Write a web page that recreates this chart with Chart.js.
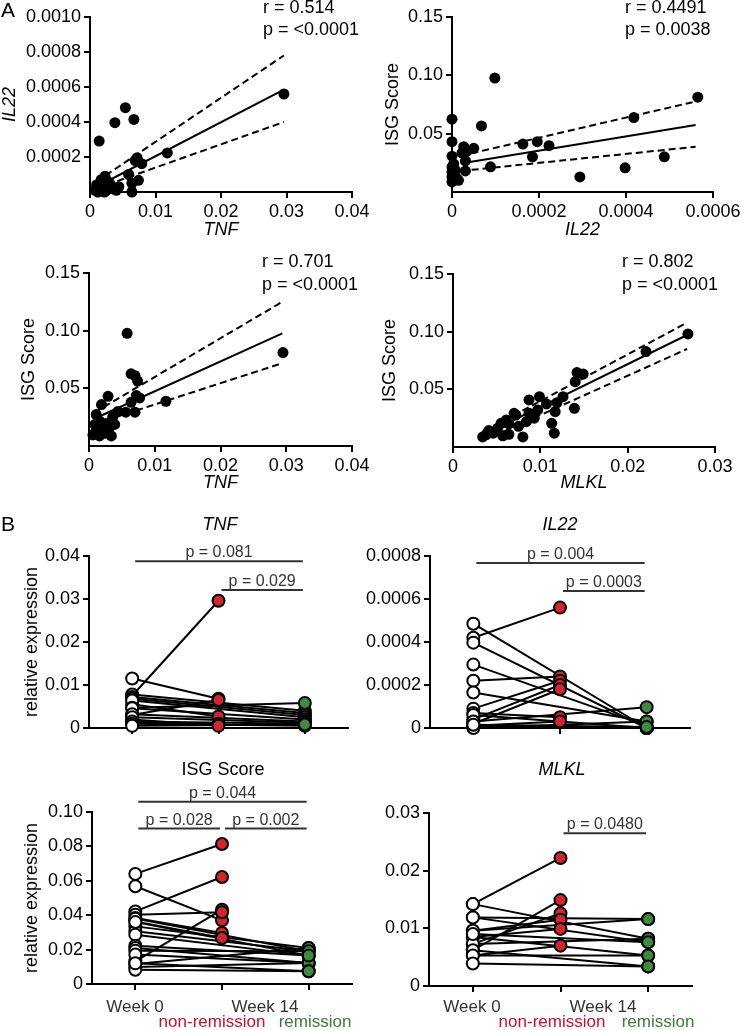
<!DOCTYPE html>
<html>
<head>
<meta charset="utf-8">
<script src="https://cdn.jsdelivr.net/npm/chart.js@4"></script>
<style>
  html, body { margin: 0; padding: 0; background: #fff; overflow: hidden; width: 742px; height: 1030px; position: relative; }
  canvas { position: absolute; }
</style>
</head>
<body>
<script>
const FAMILY = "'Liberation Sans', Arial, sans-serif";
Chart.defaults.font.family = FAMILY;
Chart.defaults.color = '#000';

const RED = '#d0262c';
const GREEN = '#3f8a3f';

// ---- A: correlations ----
const a1Tnf = [0.0296, 0.0118, 0.0054, 0.0038, 0.0067, 0.0014, 0.0072, 0.0069, 0.0079, 0.0074, 0.0064, 0.0064, 0.0059, 0.0023,
  0.0038, 0.0044, 0.0010, 0.0015, 0.0020, 0.0025, 0.0030, 0.0012, 0.0018, 0.0008, 0.0027, 0.0033, 0.0040, 0.0022, 0.0017];
const a1Il22 = [0.00056, 0.000223, 0.000482, 0.000396, 0.000415, 0.000291, 0.000196, 0.00018, 0.000162, 0.000067, 0.00005, 0.0, 0.0001, 0.00009,
  0.00002, 0.00003, 0.00004, 0.00005, 0.00003, 0.00001, 0.00005, 0.0, 0.00002, 0.00001, 0.00006, 0.00002, 0.00001, 0.0, 0.00007];
const a1LineX = [0.0010, 0.0296];
const a1Fit = [0.00003, 0.000585];
const a1Hi = [0.00006, 0.00078];
const a1Lo = [0.00002, 0.0004];

const a2Il22 = [0.000565, 0.000418, 0.000488, 0.000398, 0.000294, 0.0000985, 0.0000677, 0.000163, 0.000196, 0.000223, 0.000185, 0.0000885,
  0.0000308, 0.0000308, 0.0000269, 0.000023, 0.00005, 0.0000346, 0, 0, 0, 0, 0, 0, 0, 0.0000077, 0.0000115, 0.000015, 0.000005, 0.000004];
const a2Isg = [0.0813, 0.0638, 0.0302, 0.0207, 0.0129, 0.0977, 0.0566, 0.0411, 0.0431, 0.0397, 0.0302, 0.0216,
  0.0267, 0.0181, 0.0388, 0.0336, 0.0374, 0.035, 0.0624, 0.0431, 0.0307, 0.0216, 0.0172, 0.0129, 0.0086, 0.0187, 0.0115, 0.0100, 0.0150, 0.0240];
const a2LineX = [0.00002, 0.00056];
const a2Fit = [0.0245, 0.0575];
const a2Hi = [0.031, 0.0776];
const a2Lo = [0.018, 0.0388];

const a3Tnf = [0.0295, 0.0117, 0.0058, 0.0064, 0.0070, 0.0074, 0.0072, 0.0077, 0.0064, 0.0070, 0.0056, 0.0029, 0.0019, 0.0011,
  0.0016, 0.0026, 0.0039, 0.0009, 0.0011, 0.0021, 0.0031, 0.0006, 0.0016, 0.0034, 0.0024, 0.0014, 0.0044, 0.0036];
const a3Isg = [0.081, 0.0388, 0.0977, 0.0626, 0.0609, 0.0563, 0.0437, 0.0417, 0.0379, 0.0293, 0.0293, 0.0431, 0.0359, 0.0273,
  0.0216, 0.0195, 0.0187, 0.0187, 0.0144, 0.0130, 0.0160, 0.0096, 0.0087, 0.0087, 0.0110, 0.0120, 0.0300, 0.0250];
const a3LineX = [0.0008, 0.0294];
const a3Fit = [0.0236, 0.0977];
const a3Hi = [0.0290, 0.125];
const a3Lo = [0.0190, 0.0718];

const a4Mlkl = [0.0269, 0.0221, 0.0142, 0.0149, 0.0140, 0.0139, 0.0126, 0.0119, 0.0117, 0.0113, 0.0107, 0.0099, 0.0097, 0.0087, 0.0084, 0.0087,
  0.0072, 0.0070, 0.0061, 0.0064, 0.0055, 0.0051, 0.0041, 0.0034, 0.0057, 0.0080, 0.0116, 0.0064, 0.0046, 0.0038, 0.0075, 0.0093];
const a4Isg = [0.098, 0.0827, 0.0645, 0.0633, 0.0566, 0.0335, 0.0436, 0.0384, 0.0306, 0.0205, 0.0373, 0.0436, 0.0321, 0.0408, 0.022, 0.0292,
  0.0277, 0.0292, 0.0234, 0.020, 0.0205, 0.0162, 0.0142, 0.0087, 0.0097, 0.0087, 0.0120, 0.0110, 0.0120, 0.0110, 0.0180, 0.0250];
const a4LineX = [0.0035, 0.0268];
const a4Fit = [0.0105, 0.0971];
const a4Hi = [0.0135, 0.1078];
const a4Lo = [0.0055, 0.085];

// ---- B: week 0 vs week 14 ----
const groups = ['Week 0', 'non-remission', 'remission'];

const tnfW0toNR = [0.0075, 0.0115, 0.0030, 0.0055, 0.0012, 0.0020];
const tnfNR = [0.0296, 0.0068, 0.0065, 0.0027, 0.0010, 0.0005];
const tnfW0toR = [0.0078, 0.0072, 0.0068, 0.0064, 0.0047, 0.0046, 0.0032, 0.0025, 0.0015, 0.0010, 0.0005];
const tnfR = [0.0040, 0.0035, 0.0030, 0.0025, 0.0058, 0.0020, 0.0015, 0.0012, 0.0010, 0.0005, 0.0008];

const il22W0toNR = [0.00042, 0.00022, 0.00009, 0.00004, 0.00002, 0.00007, 0.00001];
const il22NR = [0.00056, 0.00024, 0.00022, 0.00020, 0.00018, 0.00005, 0.00003];
const il22W0toR = [0.000485, 0.000397, 0.000295, 0.000165, 0.00006, 0.00003, 0.00001, 0.0, 0.000015];
const il22R = [0.0, 0.0, 0.00001, 0.00003, 0.0, 0.000097, 0.0, 0.00003, 0.000005];

const isgW0toNR = [0.064, 0.0422, 0.0568, 0.0132, 0.0403, 0.0384, 0.0364];
const isgNR = [0.0814, 0.0622, 0.037, 0.0432, 0.0417, 0.0297, 0.0267];
const isgW0toR = [0.0335, 0.0306, 0.0287, 0.0223, 0.0209, 0.0194, 0.0171, 0.0116, 0.0099, 0.0083, 0.0380, 0.0360, 0.0120];
const isgR = [0.0209, 0.0190, 0.0165, 0.0165, 0.0122, 0.0190, 0.0122, 0.0209, 0.0122, 0.0074, 0.0190, 0.0165, 0.0074];

const mlklW0toNR = [0.0142, 0.0062, 0.0073, 0.0096, 0.0085, 0.0053];
const mlklNR = [0.0222, 0.0149, 0.0126, 0.0115, 0.0099, 0.0070];
const mlklW0toR = [0.0142, 0.0119, 0.0119, 0.0096, 0.0085, 0.0073, 0.0062, 0.0053, 0.0039, 0.0090];
const mlklR = [0.0082, 0.0116, 0.0076, 0.0116, 0.0053, 0.0082, 0.0034, 0.0053, 0.0034, 0.0076];

// tick values
const tnfAxisTicks = [0, 0.01, 0.02, 0.03, 0.04];
const il22XTicks = [0, 0.0002, 0.0004, 0.0006];
const il22YTicks = [0.0002, 0.0004, 0.0006, 0.0008, 0.0010];
const isgYTicks = [0.05, 0.10, 0.15];
const mlklXTicks = [0, 0.01, 0.02, 0.03];
const bTnfTicks = [0, 0.01, 0.02, 0.03, 0.04];
const bIl22Ticks = [0, 0.0002, 0.0004, 0.0006, 0.0008];
const bIsgTicks = [0, 0.02, 0.04, 0.06, 0.08, 0.10];
const bMlklTicks = [0, 0.01, 0.02, 0.03];

// comparison brackets (category index from/to, height in data units)
const tnfBrackets = [{ from: 0, to: 2, y: 0.0388, text: 'p = 0.081' }, { from: 1, to: 2, y: 0.0321, text: 'p = 0.029' }];
const il22Brackets = [{ from: 0, to: 2, y: 0.000767, text: 'p = 0.004' }, { from: 1, to: 2, y: 0.000637, text: 'p = 0.0003' }];
const isgBrackets = [{ from: 0, to: 2, y: 0.106, text: 'p = 0.044' }, { from: 0, to: 1, y: 0.0904, text: 'p = 0.028' }, { from: 1, to: 2, y: 0.0904, text: 'p = 0.002' }];
const mlklBrackets = [{ from: 1, to: 2, y: 0.0265, text: 'p = 0.0480' }];

function addCanvas(box) {
  const c = document.createElement('canvas');
  c.width = box.w;
  c.height = box.h;
  c.style.left = box.x + 'px';
  c.style.top = box.y + 'px';
  document.body.appendChild(c);
  return c;
}

const notesPlugin = {
  id: 'notes',
  afterDraw(chart, args, o) {
    const ctx = chart.ctx;
    const bx = o.box.x, by = o.box.y;
    ctx.save();
    (o.brackets || []).forEach(b => {
      const x1 = chart.scales.x.getPixelForValue(b.from) + 3;
      const x2 = chart.scales.x.getPixelForValue(b.to) - 2;
      const y = chart.scales.y.getPixelForValue(b.y);
      ctx.strokeStyle = '#333';
      ctx.lineWidth = 2;
      ctx.beginPath();
      ctx.moveTo(x1, y);
      ctx.lineTo(x2, y);
      ctx.stroke();
      ctx.font = '16px ' + FAMILY;
      ctx.fillStyle = '#333';
      ctx.textAlign = 'center';
      ctx.textBaseline = 'alphabetic';
      ctx.fillText(b.text, (x1 + x2) / 2, y - 4);
    });
    (o.texts || []).forEach(t => {
      ctx.font = (t.italic ? 'italic ' : '') + (t.size || 18) + 'px ' + FAMILY;
      ctx.fillStyle = t.color || '#000';
      ctx.textAlign = t.align || 'center';
      ctx.textBaseline = 'middle';
      ctx.fillText(t.text, t.x - bx, t.y - by);
    });
    ctx.restore();
  }
};

function linAxis(min, max, ticks, d, hideLabels) {
  return {
    type: 'linear', min, max,
    afterBuildTicks: s => { s.ticks = ticks.map(v => ({ value: v })); },
    ticks: {
      display: !hideLabels,
      callback: v => (v === 0 ? '0' : v.toFixed(d)),
      font: { size: 18 }, color: '#000', padding: 3, autoSkip: false, maxRotation: 0
    },
    grid: { drawOnChartArea: false, drawTicks: true, tickLength: 6, color: '#000', lineWidth: 2 },
    border: { display: true, color: '#000', width: 2 }
  };
}

function withTitle(axis, text, italic, pad, side) {
  axis.title = {
    display: true, text, color: '#000',
    font: { size: 18, style: italic ? 'italic' : 'normal' },
    padding: side === 'y' ? { top: pad, bottom: 0 } : { top: 0, bottom: pad }
  };
  return axis;
}

function makeChart(box, area, type, data, scales, notes) {
  scales.x.afterFit = s => { s.height = box.y + box.h - area.b; };
  scales.y.afterFit = s => { s.width = area.l - box.x; };
  return new Chart(addCanvas(box), {
    type, data,
    options: {
      responsive: false, animation: false, events: [],
      layout: { padding: { left: 0, top: area.t - box.y, right: box.x + box.w - area.r, bottom: 0 } },
      plugins: { legend: { display: false }, tooltip: { enabled: false }, notes: Object.assign({ box }, notes) },
      scales
    },
    plugins: [notesPlugin]
  });
}

const pts = (xs, ys) => xs.map((x, i) => ({ x, y: ys[i] }));

function scatterData(xs, ys, lineX, fit, hi, lo) {
  const band = (ys2, dash) => ({
    data: pts(lineX, ys2), showLine: true, borderColor: '#000', borderWidth: 2, borderDash: dash,
    pointRadius: 0, clip: false, order: 2
  });
  return {
    datasets: [
      { data: pts(xs, ys), showLine: false, pointRadius: 5.5, pointBackgroundColor: '#000', pointBorderWidth: 0, clip: false, order: 1 },
      band(fit, []), band(hi, [7, 4]), band(lo, [7, 4])
    ]
  };
}

function pairedData(w0NR, nr, w0R, r) {
  const dots = (vals, cat, fill) => ({
    data: vals.map(y => ({ x: cat, y })), showLine: false, pointRadius: 6,
    pointBackgroundColor: fill, pointBorderColor: '#000', pointBorderWidth: 2, clip: false, order: 1
  });
  const link = (a, b, cat) => ({
    data: [{ x: groups[0], y: a }, { x: cat, y: b }], borderColor: '#000', borderWidth: 2,
    pointRadius: 0, clip: false, order: 2
  });
  const sets = [dots(w0NR.concat(w0R), groups[0], '#fff'), dots(nr, groups[1], RED), dots(r, groups[2], GREEN)];
  w0NR.forEach((v, i) => sets.push(link(v, nr[i], groups[1])));
  w0R.forEach((v, i) => sets.push(link(v, r[i], groups[2])));
  return { labels: groups, datasets: sets };
}

function catAxis() {
  return {
    type: 'category', offset: true,
    ticks: { display: false },
    grid: { drawOnChartArea: false, drawTicks: true, tickLength: 6, color: '#000', lineWidth: 2, offset: false },
    border: { display: true, color: '#000', width: 2 }
  };
}

const LH = 10.8; // half title line height

// A1
let box = { x: 0, y: 0, w: 420, h: 245 }, area = { l: 90, t: 17, r: 352, b: 192 };
makeChart(box, area, 'scatter', scatterData(a1Tnf, a1Il22, a1LineX, a1Fit, a1Hi, a1Lo), {
  x: withTitle(linAxis(0, 0.04, tnfAxisTicks, 2), 'TNF', true, box.y + box.h - 230 - LH, 'x'),
  y: withTitle(linAxis(0, 0.001, il22YTicks, 4), 'IL22', true, 10 - box.x - LH, 'y')
}, { texts: [
  { text: 'A', x: 8, y: 11, size: 21 },
  { text: 'r = 0.514', x: 263, y: 8, align: 'left' },
  { text: 'p = <0.0001', x: 263, y: 30, align: 'left' }
] });

// A2
box = { x: 371, y: 0, w: 420, h: 245 }; area = { l: 452, t: 17, r: 713, b: 192 };
makeChart(box, area, 'scatter', scatterData(a2Il22, a2Isg, a2LineX, a2Fit, a2Hi, a2Lo), {
  x: withTitle(linAxis(0, 0.0006, il22XTicks, 4), 'IL22', true, box.y + box.h - 230 - LH, 'x'),
  y: withTitle(linAxis(0, 0.15, isgYTicks, 2), 'ISG Score', false, 393 - box.x - LH, 'y')
}, { texts: [
  { text: 'r = 0.4491', x: 625, y: 8, align: 'left' },
  { text: 'p = 0.0038', x: 625, y: 30, align: 'left' }
] });

// A3
box = { x: 0, y: 245, w: 420, h: 255 }; area = { l: 89, t: 273, r: 352, b: 446 };
makeChart(box, area, 'scatter', scatterData(a3Tnf, a3Isg, a3LineX, a3Fit, a3Hi, a3Lo), {
  x: withTitle(linAxis(0, 0.04, tnfAxisTicks, 2), 'TNF', true, box.y + box.h - 483 - LH, 'x'),
  y: withTitle(linAxis(0, 0.15, isgYTicks, 2), 'ISG Score', false, 29 - box.x - LH, 'y')
}, { texts: [
  { text: 'r = 0.701', x: 262, y: 262, align: 'left' },
  { text: 'p = <0.0001', x: 262, y: 285, align: 'left' }
] });

// A4
box = { x: 371, y: 245, w: 420, h: 255 }; area = { l: 453, t: 274, r: 715, b: 447 };
makeChart(box, area, 'scatter', scatterData(a4Mlkl, a4Isg, a4LineX, a4Fit, a4Hi, a4Lo), {
  x: withTitle(linAxis(0, 0.03, mlklXTicks, 2), 'MLKL', true, box.y + box.h - 483 - LH, 'x'),
  y: withTitle(linAxis(0, 0.15, isgYTicks, 2), 'ISG Score', false, 390 - box.x - LH, 'y')
}, { texts: [
  { text: 'r = 0.802', x: 622, y: 262, align: 'left' },
  { text: 'p = <0.0001', x: 622, y: 285, align: 'left' }
] });

// B1 TNF
box = { x: 0, y: 500, w: 420, h: 250 }; area = { l: 89, t: 556, r: 348, b: 728 };
makeChart(box, area, 'line', pairedData(tnfW0toNR, tnfNR, tnfW0toR, tnfR), {
  x: catAxis(),
  y: withTitle(linAxis(0, 0.04, bTnfTicks, 2), 'relative expression', false, 32 - box.x - LH, 'y')
}, { brackets: tnfBrackets, texts: [
  { text: 'B', x: 8, y: 525, size: 21 },
  { text: 'TNF', x: 220, y: 525, italic: true }
] });

// B2 IL22
box = { x: 330, y: 500, w: 460, h: 250 }; area = { l: 430, t: 556, r: 690, b: 728 };
makeChart(box, area, 'line', pairedData(il22W0toNR, il22NR, il22W0toR, il22R), {
  x: catAxis(),
  y: linAxis(0, 0.0008, bIl22Ticks, 4)
}, { brackets: il22Brackets, texts: [
  { text: 'IL22', x: 560, y: 525, italic: true }
] });

// B3 ISG Score
box = { x: 0, y: 750, w: 420, h: 280 }; area = { l: 92, t: 812, r: 352, b: 984 };
makeChart(box, area, 'line', pairedData(isgW0toNR, isgNR, isgW0toR, isgR), {
  x: catAxis(),
  y: withTitle(linAxis(0, 0.10, bIsgTicks, 2), 'relative expression', false, 32 - box.x - LH, 'y')
}, { brackets: isgBrackets, texts: [
  { text: 'ISG Score', x: 223, y: 770 },
  { text: 'Week 0', x: 135, y: 1007, size: 17, color: '#333' },
  { text: 'Week 14', x: 265, y: 1007, size: 17, color: '#333' },
  { text: 'non-remission', x: 212, y: 1022, size: 17, color: '#c8102e' },
  { text: 'remission', x: 315, y: 1022, size: 17, color: '#3a7d3a' }
] });

// B4 MLKL
box = { x: 371, y: 750, w: 420, h: 280 }; area = { l: 429, t: 813, r: 692, b: 986 };
makeChart(box, area, 'line', pairedData(mlklW0toNR, mlklNR, mlklW0toR, mlklR), {
  x: catAxis(),
  y: linAxis(0, 0.03, bMlklTicks, 2)
}, { brackets: mlklBrackets, texts: [
  { text: 'MLKL', x: 562, y: 770, italic: true },
  { text: 'Week 0', x: 472, y: 1007, size: 17, color: '#333' },
  { text: 'Week 14', x: 603, y: 1007, size: 17, color: '#333' },
  { text: 'non-remission', x: 552, y: 1022, size: 17, color: '#c8102e' },
  { text: 'remission', x: 658, y: 1022, size: 17, color: '#3a7d3a' }
] });
</script>
</body>
</html>
